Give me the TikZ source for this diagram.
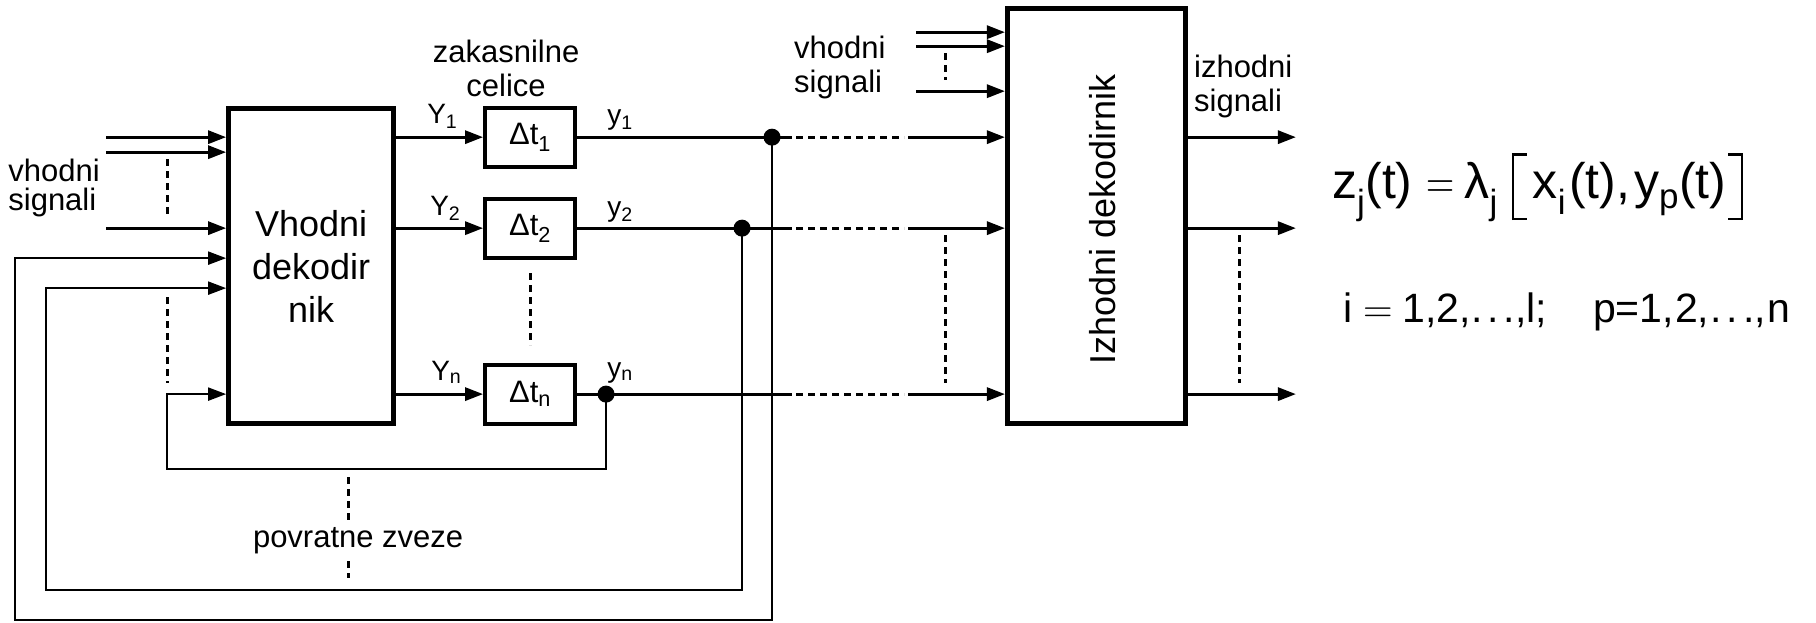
\documentclass[tikz,border=0pt]{standalone}
\usepackage{graphicx}
\usepackage{fontspec}
\setmainfont{Liberation Sans}
\usetikzlibrary{arrows.meta}

\newcommand{\fsz}[2]{\fontsize{#1}{#2}\selectfont}
\newcommand{\eqs}{{\fontfamily{lmr}\selectfont =}}
\newcommand{\tdots}{.\kern5pt.\kern5pt.}
\newcommand{\lbrk}{\rule[-22pt]{2.5pt}{67pt}\kern-2.5pt\rule[-22pt]{15pt}{2.5pt}\kern-15pt\rule[42.5pt]{15pt}{2.5pt}}
\newcommand{\rbrk}{\rule[-22pt]{15pt}{2.5pt}\kern-15pt\rule[42.5pt]{15pt}{2.5pt}\kern-2.5pt\rule[-22pt]{2.5pt}{67pt}}

\begin{document}
\begin{tikzpicture}[
  x=1pt, y=-1pt,
  every node/.style={font=\fsz{31}{34}, inner sep=0pt},
  >={Triangle[length=18pt,width=13pt]},
  block/.style={draw, line width=5pt, align=center, font=\fsz{36}{43}},
  delay/.style={draw, line width=4pt, minimum width=90pt, minimum height=59pt, font=\fsz{31}{34}},
  junc/.style={circle, fill, minimum size=17pt},
  sig/.style={line width=3pt},
  fb/.style={line width=2pt},
  dots/.style={line width=3pt, dash pattern=on 7pt off 5pt},
  ylab/.style={anchor=base west, font=\fsz{28}{32}},
]

\draw[white] (0,0) rectangle (1816,622);

\node[block, minimum width=165pt, minimum height=315pt] (vdek) at (311,266) {Vhodni\\dekodir\\nik};
\node[block, minimum width=178pt, minimum height=415pt] (idek) at (1096.5,216) {};
\node[rotate=90, font=\fsz{36}{43}] (idekt) at (1103,219) {Izhodni dekodirnik};

\node[delay] (d1) at (530,137) {Δt\textsubscript{1}};
\node[delay] (d2) at (530,228) {Δt\textsubscript{2}};
\node[delay] (dn) at (530,394) {Δt\textsubscript{n}};

\node[junc] (j1) at (772,137) {};
\node[junc] (j2) at (742,228) {};
\node[junc] (jn) at (606,394) {};

% izhodi zakasnilnih celic
\foreach \r/\y in {1/137, 2/228, n/394} {
  \coordinate (a\r) at (792,\y);
  \coordinate (b\r) at (908,\y);
  \coordinate (o\r) at (1296,\y);
  \draw[sig,->] (vdek.east |- d\r) -- (d\r.west);
  \draw[sig] (d\r.east) -- (a\r);
  \draw[dots] ([xshift=4pt]a\r) -- ([xshift=-4pt]b\r);
  \draw[sig,->] (b\r) -- (b\r -| idek.west);
  \draw[sig,->] (b\r -| idek.east) -- (o\r);
}

% vhodni signali
\foreach \y [count=\k] in {137,152,228} {
  \coordinate (v\k) at (106,\y);
  \draw[sig,->] (v\k) -- (v\k -| vdek.west);
}
\foreach \y [count=\k] in {32,46,91} {
  \coordinate (w\k) at (916,\y);
  \draw[sig,->] (w\k) -- (w\k -| idek.west);
}

% povratne zveze
\coordinate (f1) at (15,258);
\coordinate (f2) at (46,288);
\coordinate (fn) at (167,394);
\draw[fb,->] (j1.center) -- ++(0,483) -| (f1) -- (f1 -| vdek.west);
\draw[fb,->] (j2.center) -- ++(0,362) -| (f2) -- (f2 -| vdek.west);
\draw[fb,->] (jn.center) -- ++(0,75) -| (fn) -- (fn -| vdek.west);

% pikcaste crte
\foreach \x/\ya/\yb in {167/159/215, 167/297/383, 530/273/345, 945/53/80, 945/235/383, 1240/235/383, 348/477/578}
  \draw[dots] (\x,\ya) -- (\x,\yb);

% napisi
\node[anchor=north west, align=left, font=\fsz{31}{29}] (vin) at (8,159) {vhodni\\signali};
\node[anchor=north, align=center] (zak) at (506,40) {zakasnilne\\celice};
\node[anchor=north west, align=left] (vin2) at (794,36) {vhodni\\signali};
\node[anchor=north west, align=left] (izh) at (1194,55) {izhodni\\signali};
\node[fill=white, inner sep=3pt] (pov) at (358,541) {povratne zveze};

\node[ylab] (Y1) at (427,123) {Y\textsubscript{1}};
\node[ylab] (Y2) at (430,215) {Y\textsubscript{2}};
\node[ylab] (Yn) at (431,380) {Y\textsubscript{n}};
\node[ylab] (y1) at (607,124) {y\textsubscript{1}};
\node[ylab] (y2) at (607,216) {y\textsubscript{2}};
\node[ylab] (yn) at (607,377) {y\textsubscript{n}};

\node[anchor=base west, font=\fsz{50}{60}] (fz) at (1332,198) {z\textsubscript{j}(t)\hspace{14pt}\scalebox{0.78}[1]{\eqs}\hspace{10pt}λ\textsubscript{j}\hspace{14pt}\lbrk\hspace{6pt}x\textsubscript{i}\kern3pt(t),\hspace{4pt}y\textsubscript{p}(t)\hspace{2pt}\rbrk};
\node[anchor=base west, font=\fsz{41}{48}] (fi) at (1343,322) {i\hspace{11pt}\eqs\hspace{10pt}1,2,\tdots,l;\hspace{46pt}p=1,\kern1pt2,\kern1pt\tdots,\kern2pt n};

\end{tikzpicture}
\end{document}
